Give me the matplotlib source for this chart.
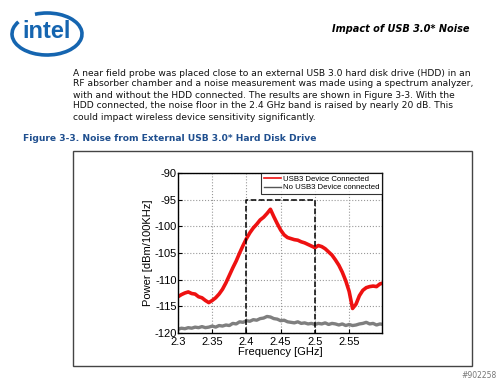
import matplotlib
matplotlib.use('Agg')
import matplotlib.pyplot as plt
import matplotlib.patches as mpatches
from matplotlib.lines import Line2D

plt.rcParams['axes.unicode_minus'] = False

# ---------- data ----------
freq = [2.300, 2.305, 2.310, 2.315, 2.320, 2.325, 2.330, 2.335, 2.340, 2.345,
        2.350, 2.355, 2.360, 2.365, 2.370, 2.375, 2.380, 2.385, 2.390, 2.395,
        2.400, 2.405, 2.410, 2.415, 2.420, 2.425, 2.430, 2.435, 2.440, 2.445,
        2.450, 2.455, 2.460, 2.465, 2.470, 2.475, 2.480, 2.485, 2.490, 2.495,
        2.500, 2.505, 2.510, 2.515, 2.520, 2.525, 2.530, 2.535, 2.540, 2.545,
        2.550, 2.555, 2.560, 2.565, 2.570, 2.575, 2.580, 2.585, 2.590, 2.595,
        2.600]

usb3_on = [-113.2, -112.8, -112.5, -112.3, -112.6, -112.7, -113.2, -113.4, -113.9, -114.3,
           -113.9, -113.4, -112.7, -111.8, -110.6, -109.2, -107.8, -106.5, -105.0, -103.6,
           -102.3, -101.2, -100.3, -99.6, -98.8, -98.3, -97.6, -96.8, -98.2, -99.5,
           -100.7, -101.6, -102.1, -102.3, -102.5, -102.6, -102.9, -103.1, -103.4, -103.7,
           -104.0, -103.6, -103.8, -104.2, -104.8, -105.4, -106.3, -107.3, -108.6, -110.2,
           -112.2, -115.4, -114.6, -113.0, -112.0, -111.5, -111.3, -111.2, -111.3, -110.8,
           -110.6]

usb3_off = [-119.3, -119.1, -119.2, -119.0, -119.1, -118.9, -119.0, -118.8, -119.0, -118.9,
            -118.7, -118.9, -118.6, -118.7, -118.5, -118.6, -118.2, -118.3, -117.9, -118.0,
            -117.7, -117.8, -117.5, -117.6, -117.3, -117.2, -116.9, -117.0, -117.3, -117.4,
            -117.7, -117.6, -117.9, -118.0, -118.1, -117.9, -118.2, -118.1, -118.3, -118.2,
            -118.4, -118.2, -118.3, -118.1, -118.4, -118.2, -118.3, -118.5, -118.3, -118.6,
            -118.4, -118.6, -118.5, -118.3, -118.2, -118.0, -118.3, -118.2, -118.5, -118.3,
            -118.4]

band_lo, band_hi, band_top = 2.4, 2.5, -95   # 2.4 GHz band box
x_ticks = [2.3, 2.35, 2.4, 2.45, 2.5, 2.55]
x_tick_labels = ['2.3', '2.35', '2.4', '2.45', '2.5', '2.55']
y_ticks = [-120, -115, -110, -105, -100, -95, -90]

paragraph = [
    "A near field probe was placed close to an external USB 3.0 hard disk drive (HDD) in an",
    "RF absorber chamber and a noise measurement was made using a spectrum analyzer,",
    "with and without the HDD connected. The results are shown in Figure 3-3. With the",
    "HDD connected, the noise floor in the 2.4 GHz band is raised by nearly 20 dB. This",
    "could impact wireless device sensitivity significantly.",
]

W, H = 500, 383
fig = plt.figure(figsize=(W / 100, H / 100), dpi=100)
fig.patch.set_facecolor('white')

def fx(px):
    return px / W

def fy(py):
    return 1 - py / H

INTEL_BLUE = '#1565b0'

# ---------- intel logo ----------
logo = mpatches.Arc((fx(47), fy(34)), fx(70), 42 / H, theta1=151, theta2=475,
                    transform=fig.transFigure, color=INTEL_BLUE, lw=2.6)
fig.add_artist(logo)
fig.text(fx(47), fy(31), 'intel', ha='center', va='center', fontsize=17,
         fontweight='bold', color=INTEL_BLUE, family='Liberation Sans')

# header
fig.text(fx(470), fy(29), 'Impact of USB 3.0* Noise', ha='right', va='center',
         fontsize=7, fontweight='bold', style='italic', family='DejaVu Sans')

# paragraph
for i, line in enumerate(paragraph):
    fig.text(fx(73), fy(73 + i * 11), line, ha='left', va='center',
             fontsize=6.6, family='DejaVu Sans', color='#111111')

# caption
fig.text(fx(23), fy(139), 'Figure 3-3. Noise from External USB 3.0* Hard Disk Drive',
         ha='left', va='center', fontsize=6.6, fontweight='bold',
         color='#1f4f8f', family='DejaVu Sans')

# figure frame
frame = mpatches.Rectangle((fx(73), fy(366)), fx(472) - fx(73), fy(151) - fy(366),
                           transform=fig.transFigure, fill=False,
                           edgecolor='#444444', lw=1)
fig.add_artist(frame)

# watermark
fig.text(fx(497), fy(376), '#902258', ha='right', va='center', fontsize=5.5,
         color='#777777', family='DejaVu Sans')

# ---------- chart ----------
ax = fig.add_axes([fx(178), fy(333), fx(382) - fx(178), fy(173) - fy(333)])
ax.plot(freq, usb3_on, color='#ee1111', lw=2.6, label='USB3 Device Connected')
ax.plot(freq, usb3_off, color='#7f7f7f', lw=2.4, label='No USB3 Device connected')

ax.plot([band_lo, band_lo, band_hi, band_hi], [-120, band_top, band_top, -120],
        color='black', ls='--', lw=1.1)

ax.set_xlim(2.3, 2.598)
ax.set_ylim(-120, -90)
ax.set_xticks(x_ticks)
ax.set_xticklabels(x_tick_labels)
ax.set_yticks(y_ticks)
ax.grid(True, ls=':', color='#999999', lw=0.8)
ax.tick_params(direction='in', labelsize=8, length=3)
ax.tick_params(axis='x', pad=3)
ax.tick_params(axis='y', pad=1)
for lab in ax.get_xticklabels() + ax.get_yticklabels():
    lab.set_family('Liberation Sans')
for sp in ax.spines.values():
    sp.set_linewidth(1.0)

ax.set_xlabel('Frequency [GHz]', fontsize=8, family='Liberation Sans', labelpad=0)
ax.set_ylabel('Power [dBm/100KHz]', fontsize=8, family='Liberation Sans', labelpad=1)

handles = [Line2D([], [], color='#ee1111', lw=1.2),
           Line2D([], [], color='#555555', lw=1.0)]
leg = ax.legend(handles, ['USB3 Device Connected', 'No USB3 Device connected'],
                loc='upper right', frameon=True, fancybox=False,
                borderaxespad=0, handlelength=2.2, handletextpad=0.3,
                borderpad=0.3, labelspacing=0.15,
                prop={'family': 'Liberation Sans', 'size': 5.6})
leg.get_frame().set_edgecolor('black')
leg.get_frame().set_linewidth(0.8)

fig.savefig('out.png', dpi=100)
